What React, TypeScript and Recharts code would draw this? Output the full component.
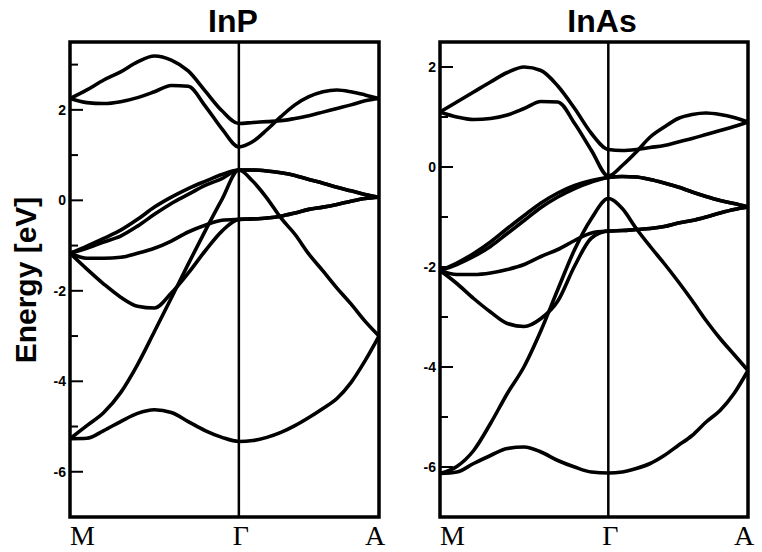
import React from 'react';
import { LineChart, Line, XAxis, YAxis, ReferenceLine, ReferenceArea } from 'recharts';

// k-path: M -> Γ (0..1), Γ -> A (1..1.83)
const kPoints = [0, 0.1, 0.2, 0.3, 0.4, 0.5, 0.6, 0.7, 0.8, 0.9, 1, 1.083, 1.166, 1.249, 1.332, 1.415, 1.498, 1.581, 1.664, 1.747, 1.83];
const kLabels = ['M', 'Γ', 'A'];
const kLabelPos = [0, 1, 1.83];

// InP bands (eV)
const inpC2 = [2.25, 2.44, 2.66, 2.84, 3.06, 3.19, 3.1, 2.86, 2.42, 1.98, 1.7, 1.72, 1.74, 1.76, 1.81, 1.87, 1.95, 2.03, 2.11, 2.2, 2.25];
const inpC1 = [2.25, 2.16, 2.14, 2.18, 2.27, 2.4, 2.54, 2.52, 2.09, 1.58, 1.18, 1.3, 1.56, 1.85, 2.11, 2.29, 2.4, 2.44, 2.4, 2.33, 2.25];
const inpV1 = [-1.17, -1.01, -0.84, -0.66, -0.42, -0.15, 0.07, 0.26, 0.42, 0.57, 0.67, 0.67, 0.65, 0.61, 0.55, 0.46, 0.38, 0.29, 0.21, 0.13, 0.07];
const inpV2 = [-1.17, -1.06, -0.92, -0.79, -0.57, -0.31, -0.07, 0.13, 0.33, 0.48, 0.67, 0.67, 0.65, 0.61, 0.55, 0.46, 0.38, 0.29, 0.21, 0.13, 0.07];
const inpV3 = [-1.17, -1.28, -1.28, -1.26, -1.17, -1.06, -0.9, -0.7, -0.55, -0.44, -0.42, -0.41, -0.39, -0.35, -0.28, -0.2, -0.15, -0.09, -0.02, 0.04, 0.07];
const inpV4 = [-1.17, -1.52, -1.85, -2.14, -2.34, -2.38, -2.05, -1.61, -1.12, -0.68, -0.42, -0.41, -0.39, -0.35, -0.28, -0.2, -0.15, -0.09, -0.02, 0.04, 0.07];
const inpV5 = [-5.27, -4.98, -4.69, -4.25, -3.63, -2.9, -2.16, -1.41, -0.68, 0.02, 0.67, 0.42, 0.05, -0.39, -0.75, -1.19, -1.56, -1.94, -2.29, -2.67, -3.0];
const inpV6 = [-5.27, -5.26, -5.09, -4.89, -4.71, -4.63, -4.69, -4.89, -5.09, -5.24, -5.33, -5.31, -5.24, -5.13, -4.98, -4.8, -4.6, -4.38, -4.03, -3.55, -3.0];

// InAs bands (eV)
const inasC2 = [1.1, 1.3, 1.5, 1.7, 1.89, 2.0, 1.93, 1.62, 1.17, 0.67, 0.35, 0.33, 0.35, 0.39, 0.43, 0.5, 0.57, 0.65, 0.73, 0.81, 0.9];
const inasC1 = [1.1, 1.0, 0.95, 0.97, 1.04, 1.17, 1.31, 1.3, 0.87, 0.33, -0.18, 0.03, 0.3, 0.6, 0.8, 0.97, 1.05, 1.08, 1.05, 0.99, 0.9];
const inasV1 = [-2.07, -1.92, -1.73, -1.5, -1.23, -0.97, -0.72, -0.52, -0.37, -0.27, -0.21, -0.19, -0.2, -0.25, -0.32, -0.4, -0.5, -0.59, -0.67, -0.73, -0.8];
const inasV2 = [-2.07, -1.95, -1.79, -1.59, -1.33, -1.07, -0.81, -0.6, -0.43, -0.3, -0.21, -0.19, -0.2, -0.25, -0.32, -0.4, -0.5, -0.59, -0.67, -0.73, -0.8];
const inasV3 = [-2.07, -2.15, -2.15, -2.12, -2.05, -1.95, -1.79, -1.65, -1.47, -1.32, -1.28, -1.27, -1.25, -1.23, -1.19, -1.12, -1.07, -1.0, -0.92, -0.85, -0.8];
const inasV4 = [-2.07, -2.33, -2.63, -2.9, -3.13, -3.19, -3.03, -2.68, -1.98, -1.42, -1.28, -1.27, -1.25, -1.23, -1.19, -1.12, -1.07, -1.0, -0.92, -0.85, -0.8];
const inasV5 = [-6.13, -5.99, -5.67, -5.13, -4.53, -3.99, -3.27, -2.45, -1.65, -1.03, -0.63, -0.83, -1.23, -1.59, -1.93, -2.29, -2.67, -3.07, -3.43, -3.75, -4.07];
const inasV6 = [-6.13, -6.1, -5.93, -5.77, -5.63, -5.6, -5.7, -5.87, -6.0, -6.1, -6.12, -6.1, -6.03, -5.93, -5.77, -5.57, -5.37, -5.1, -4.87, -4.53, -4.07];

const inpTicks = [-6, -5, -4, -3, -2, -1, 0, 1, 2, 3];
const inasTicks = [-6, -5, -4, -3, -2, -1, 0, 1, 2];

const SANS = '"Liberation Sans", Arial, Helvetica, sans-serif';
const SERIF = '"Liberation Serif", "Times New Roman", serif';

function toRows(bands: number[][]) {
  return kPoints.map((k, i) => {
    const row: Record<string, number> = { k };
    bands.forEach((b, j) => {
      row['b' + j] = b[i];
    });
    return row;
  });
}

function LeftTick(props: any) {
  const { x, y, payload } = props;
  const v = payload.value;
  const major = v % 2 === 0;
  return (
    <g>
      <line x1={x} x2={x + (major ? 13 : 8)} y1={y} y2={y} stroke="#000" strokeWidth={2} />
      {major && (
        <text x={x - 4} y={y + 5} textAnchor="end" fontSize={14} fontWeight="bold" fontFamily={SANS} fill="#000">
          {v}
        </text>
      )}
    </g>
  );
}

function RightTick(props: any) {
  const { x, y, payload } = props;
  const major = payload.value % 2 === 0;
  return <line x1={x} x2={x - (major ? 12 : 7)} y1={y} y2={y} stroke="#000" strokeWidth={2} />;
}

function KTick(props: any) {
  const { x, y, payload } = props;
  const idx = kLabelPos.indexOf(payload.value);
  const anchor = idx === 0 ? 'start' : 'middle';
  const dx = idx === 1 ? 2 : idx === 2 ? -4 : 0;
  return (
    <text x={x + dx} y={y + 28} textAnchor={anchor} fontSize={28} fontFamily={SERIF} fill="#000">
      {kLabels[idx]}
    </text>
  );
}

interface PanelProps {
  bands: number[][];
  domain: [number, number];
  ticks: number[];
  left: number;
  width: number;
  yAxisWidth: number;
  rightMargin: number;
}

function BandPanel({ bands, domain, ticks, left, width, yAxisWidth, rightMargin }: PanelProps) {
  const rows = toRows(bands);
  return (
    <div style={{ position: 'absolute', left, top: 0 }}>
      <LineChart width={width} height={552} data={rows} margin={{ top: 42, right: rightMargin, bottom: 0, left: 0 }}>
        <XAxis
          dataKey="k"
          type="number"
          domain={[0, 1.83]}
          ticks={kLabelPos}
          interval={0}
          axisLine={false}
          tickLine={false}
          tickSize={0}
          tickMargin={0}
          height={35}
          tick={<KTick />}
        />
        <YAxis
          yAxisId="l"
          type="number"
          domain={domain}
          ticks={ticks}
          interval={0}
          width={yAxisWidth}
          axisLine={false}
          tickLine={false}
          tickSize={0}
          tickMargin={0}
          tick={<LeftTick />}
        />
        <YAxis
          yAxisId="r"
          orientation="right"
          type="number"
          domain={domain}
          ticks={ticks}
          interval={0}
          width={1}
          axisLine={false}
          tickLine={false}
          tickSize={0}
          tickMargin={0}
          tick={<RightTick />}
        />
        <ReferenceLine yAxisId="l" x={1} stroke="#000" strokeWidth={2.5} />
        {bands.map((_, j) => (
          <Line
            key={j}
            yAxisId="l"
            type="monotone"
            dataKey={'b' + j}
            stroke="#000"
            strokeWidth={3.6}
            dot={false}
            activeDot={false}
            isAnimationActive={false}
          />
        ))}
        <ReferenceArea
          yAxisId="l"
          x1={0}
          x2={1.83}
          y1={domain[0]}
          y2={domain[1]}
          fill="none"
          stroke="#000"
          strokeWidth={3.5}
          ifOverflow="visible"
        />
      </LineChart>
    </div>
  );
}

export default function App() {
  return (
    <div style={{ position: 'absolute', left: 0, top: 0, width: 762, height: 552, background: '#fff' }}>
      <BandPanel
        bands={[inpC2, inpC1, inpV1, inpV2, inpV3, inpV4, inpV5, inpV6]}
        domain={[-7, 3.5]}
        ticks={inpTicks}
        left={0}
        width={390}
        yAxisWidth={70}
        rightMargin={10}
      />
      <BandPanel
        bands={[inasC2, inasC1, inasV1, inasV2, inasV3, inasV4, inasV5, inasV6]}
        domain={[-7, 2.5]}
        ticks={inasTicks}
        left={380}
        width={382}
        yAxisWidth={60}
        rightMargin={13}
      />
      <svg width={762} height={552} style={{ position: 'absolute', left: 0, top: 0, pointerEvents: 'none' }}>
        <text x={233} y={32} textAnchor="middle" fontSize={32} fontWeight="bold" fontFamily={SANS}>
          InP
        </text>
        <text x={602} y={32} textAnchor="middle" fontSize={32} fontWeight="bold" fontFamily={SANS}>
          InAs
        </text>
        <text
          transform="translate(36,280) rotate(-90)"
          textAnchor="middle"
          fontSize={30}
          fontWeight="bold"
          fontFamily={SANS}
        >
          Energy [eV]
        </text>
      </svg>
    </div>
  );
}
